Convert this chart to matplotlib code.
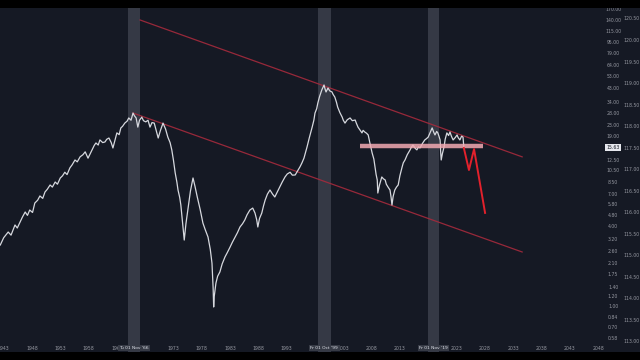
#!/usr/bin/env python3
"""Dow / gold style ratio chart on a dark log-scale canvas with a falling channel."""

import matplotlib
matplotlib.use("Agg")
import matplotlib.pyplot as plt
from matplotlib.patches import Rectangle

# ratio series (year, value)
years = [1942.4, 1943.0, 1943.8, 1944.3, 1945.0, 1945.4, 1945.9, 1946.3, 1946.8, 1947.2,
         1947.6, 1948.1, 1948.5, 1949.0, 1949.4, 1949.9, 1950.3, 1950.7, 1951.2, 1951.6,
         1952.1, 1952.5, 1953.0, 1953.4, 1953.8, 1954.2, 1954.7, 1955.1, 1955.6, 1956.0,
         1956.5, 1957.0, 1957.4, 1957.9, 1958.2, 1958.6, 1959.0, 1959.3, 1959.7, 1960.0,
         1960.5, 1960.9, 1961.2, 1961.6, 1962.0, 1962.3, 1962.7, 1963.0, 1963.4, 1963.7,
         1964.0, 1964.4, 1964.8, 1965.1, 1965.5, 1965.85, 1966.1, 1966.4, 1966.7, 1967.0,
         1967.4, 1967.7, 1968.1, 1968.5, 1968.85, 1969.2, 1969.6, 1970.0, 1970.3, 1970.7,
         1971.15, 1971.6, 1972.0, 1972.4, 1972.7, 1973.0, 1973.3, 1973.6, 1973.8, 1974.1,
         1974.3, 1974.6, 1974.9, 1975.2, 1975.6, 1976.0, 1976.45, 1976.8, 1977.2, 1977.7,
         1978.2, 1978.6, 1979.1, 1979.5, 1979.8, 1980.0, 1980.1, 1980.2, 1980.5, 1980.8,
         1981.2, 1981.6, 1982.1, 1982.5, 1983.0, 1983.4, 1983.9, 1984.3, 1984.75, 1985.2,
         1985.6, 1986.0, 1986.5, 1987.0, 1987.4, 1987.7, 1987.9, 1988.2, 1988.6, 1988.9,
         1989.2, 1989.6, 1990.05, 1990.5, 1990.9, 1991.3, 1991.8, 1992.2, 1992.7, 1993.1,
         1993.6, 1994.0, 1994.5, 1994.9, 1995.35, 1995.7, 1996.05, 1996.3, 1996.6, 1997.0,
         1997.5, 1997.8, 1998.0, 1998.3, 1998.5, 1998.8, 1999.2, 1999.4, 1999.6, 1999.8,
         1999.95, 2000.1, 2000.3, 2000.6, 2001.0, 2001.2, 2001.5, 2001.8, 2002.0, 2002.4,
         2002.8, 2003.0, 2003.3, 2003.7, 2004.2, 2004.6, 2005.1, 2005.3, 2005.6, 2006.0,
         2006.3, 2006.5, 2006.8, 2007.1, 2007.4, 2007.7, 2008.1, 2008.4, 2008.6, 2008.8,
         2009.0, 2009.1, 2009.4, 2009.8, 2010.1, 2010.4, 2010.6, 2010.9, 2011.25, 2011.45,
         2011.6, 2011.8, 2012.1, 2012.4, 2012.7, 2013.0, 2013.4, 2013.6, 2013.9, 2014.3,
         2014.8, 2015.0, 2015.3, 2015.7, 2016.0, 2016.3, 2016.55, 2017.0, 2017.4, 2017.7,
         2018.0, 2018.4, 2018.7, 2019.0, 2019.2, 2019.5, 2019.7, 2019.9, 2020.1, 2020.2,
         2020.3, 2020.5, 2020.8, 2021.0, 2021.3, 2021.6, 2021.85, 2022.1, 2022.4, 2022.8,
         2023.1, 2023.3, 2023.6, 2023.9, 2024.15, 2024.3]
ratio = [2.91, 3.30, 3.64, 3.45, 4.11, 3.90, 4.33, 4.70, 5.14, 4.85,
         5.32, 5.10, 6.00, 6.30, 6.78, 6.50, 7.26, 7.60, 8.19, 7.90,
         8.62, 8.30, 9.24, 9.60, 10.2, 9.80, 11.0, 11.6, 12.6, 12.2,
         13.3, 13.8, 14.5, 13.0, 13.8, 15.0, 16.2, 16.9, 16.3, 17.8,
         17.0, 17.2, 18.0, 18.4, 17.0, 15.5, 18.0, 20.1, 19.5, 21.9,
         22.5, 23.8, 24.6, 26.0, 25.0, 28.3, 27.0, 26.0, 22.2, 25.0,
         26.4, 24.8, 24.3, 25.0, 22.2, 24.0, 23.8, 20.5, 18.4, 21.0,
         23.8, 21.5, 18.7, 17.0, 15.0, 12.5, 10.1, 8.60, 7.51, 6.60,
         5.80, 4.30, 3.17, 4.20, 5.60, 7.40, 9.24, 8.00, 6.66, 5.40,
         4.25, 3.80, 3.34, 2.70, 2.13, 1.40, 1.00, 1.20, 1.51, 1.70,
         1.83, 2.10, 2.37, 2.55, 2.81, 3.05, 3.34, 3.60, 3.97, 4.20,
         4.48, 4.90, 5.32, 5.50, 5.05, 4.50, 3.97, 4.60, 5.05, 5.70,
         6.32, 7.00, 7.51, 7.00, 6.66, 7.20, 7.91, 8.60, 9.40, 9.90,
         10.2, 9.70, 9.73, 10.4, 11.2, 12.0, 13.0, 14.2, 15.8, 18.5,
         22.2, 25.0, 28.3, 30.5, 33.6, 37.5, 42.1, 44.0, 45.9, 42.5,
         40.7, 42.0, 43.6, 41.5, 40.7, 39.0, 37.3, 34.0, 31.4, 28.5,
         26.4, 25.0, 23.8, 25.2, 26.0, 24.8, 25.1, 23.8, 22.2, 21.0,
         20.1, 21.0, 20.4, 20.0, 19.4, 16.9, 14.2, 12.8, 11.2, 9.80,
         8.93, 7.13, 8.20, 9.40, 9.10, 8.93, 8.30, 7.91, 7.51, 6.60,
         5.80, 6.70, 7.51, 7.90, 8.19, 9.60, 11.2, 12.0, 12.6, 13.8,
         15.0, 15.6, 16.3, 15.4, 15.0, 15.8, 15.5, 16.8, 17.8, 18.2,
         18.7, 20.5, 21.9, 20.2, 19.4, 20.6, 20.1, 19.0, 17.8, 14.5,
         12.6, 14.0, 15.8, 18.0, 20.1, 19.2, 20.4, 19.0, 17.8, 18.6,
         19.4, 18.5, 17.8, 19.0, 18.7, 15.63]
last_value = "15.63"

# drawn channel (two parallel falling trend lines)
upper_years = [1967.1, 2034.6]
upper_vals = [140.7, 13.3]
lower_years = [1965.85, 2034.6]
lower_vals = [28.3, 2.58]

# support level and projected path
support_years = [2005.95, 2027.7]
support_vals = [16.1, 16.1]
proj_years = [2024.3, 2025.2, 2026.1, 2028.05]
proj_vals = [15.5, 10.6, 15.2, 5.06]

# highlighted date bands
band_start = [1964.96, 1998.5, 2017.96]
band_end = [1967.08, 2000.8, 2019.9]
band_labels = ["Tu 01 Nov '66", "Fr 01 Oct '99", "Fr 01 Nov '19"]

x_ticks = [1943, 1948, 1953, 1958, 1963, 1973, 1978, 1983, 1988, 1993,
           2003, 2008, 2013, 2023, 2028, 2033, 2038, 2043, 2048]
log_ticks = [170, 140, 115, 95, 79, 64, 53, 43, 34, 28, 23, 19, 12.5, 10.5,
             8.5, 7.0, 5.8, 4.8, 4.0, 3.2, 2.6, 2.1, 1.75, 1.4, 1.2, 1.0, 0.84, 0.70, 0.58]
lin_ticks = [120.5, 120.0, 119.5, 119.0, 118.5, 118.0, 117.5, 117.0,
             116.5, 116.0, 115.5, 115.0, 114.5, 114.0, 113.5, 113.0]

BG = "#151924"
TXT = "#9598a1"

fig = plt.figure(figsize=(6.4, 3.6), dpi=100, facecolor=BG)
ax = fig.add_axes([0, 0, 1, 1], facecolor=BG)
ax.set_yscale("log")
ax.set_xlim(1942.35, 2055.42)
ax.set_ylim(0.401, 198.6)
for s in ax.spines.values():
    s.set_visible(False)
ax.set_xticks([])
ax.set_yticks([])
ax.minorticks_off()

# secondary linear scale on the far right
ax2 = ax.twinx()
ax2.set_ylim(112.58, 120.94)
ax2.set_yticks([])
for s in ax2.spines.values():
    s.set_visible(False)

for a, b in zip(band_start, band_end):
    ax.axvspan(a, b, color="#3b3f4b", alpha=0.85, lw=0, zorder=1)

ax.plot(upper_years, upper_vals, color="#a52a3c", lw=0.9, alpha=0.9, zorder=2)
ax.plot(lower_years, lower_vals, color="#a52a3c", lw=0.9, alpha=0.9, zorder=2)

ax.plot(years, ratio, color="#d6d8de", lw=0.9, zorder=3)

ax.plot(support_years, support_vals, color="#f2aab2", lw=3.2, alpha=0.85,
        solid_capstyle="butt", zorder=4)
ax.plot(proj_years, proj_vals, color="#e3212c", lw=1.4, zorder=5)

# x labels
xt = ax.get_xaxis_transform()
for yr in x_ticks:
    ax.text(yr, 0.033, str(yr), transform=xt, ha="center", va="center",
            fontsize=3.3, color=TXT, zorder=6)
for a, b, lab in zip(band_start, band_end, band_labels):
    ax.text((a + b) / 2, 0.033, lab, transform=xt, ha="center", va="center",
            fontsize=3.2, color="#e0e3eb", zorder=7,
            bbox=dict(boxstyle="square,pad=0.3", facecolor="#363a45", edgecolor="none"))

# right-hand price labels
yt = ax.get_yaxis_transform()
for v in log_ticks:
    ax.text(0.958, v, f"{v:.2f}", transform=yt, ha="center", va="center",
            fontsize=3.3, color=TXT, zorder=6)
ax.text(0.958, float(last_value), last_value, transform=yt, ha="center", va="center",
        fontsize=3.3, color="#131722", zorder=7,
        bbox=dict(boxstyle="square,pad=0.3", facecolor="#e6e8ee", edgecolor="none"))

yt2 = ax2.get_yaxis_transform()
for v in lin_ticks:
    ax2.text(0.987, v, f"{v:.2f}", transform=yt2, ha="center", va="center",
             fontsize=3.3, color=TXT, zorder=6)

# black letterbox bars
fig.patches.append(Rectangle((0, 1 - 8 / 360), 1, 8 / 360, transform=fig.transFigure,
                             facecolor="black", edgecolor="none", zorder=10))
fig.patches.append(Rectangle((0, 0), 1, 8 / 360, transform=fig.transFigure,
                             facecolor="black", edgecolor="none", zorder=10))

fig.savefig("out.png", dpi=100, facecolor=BG)
